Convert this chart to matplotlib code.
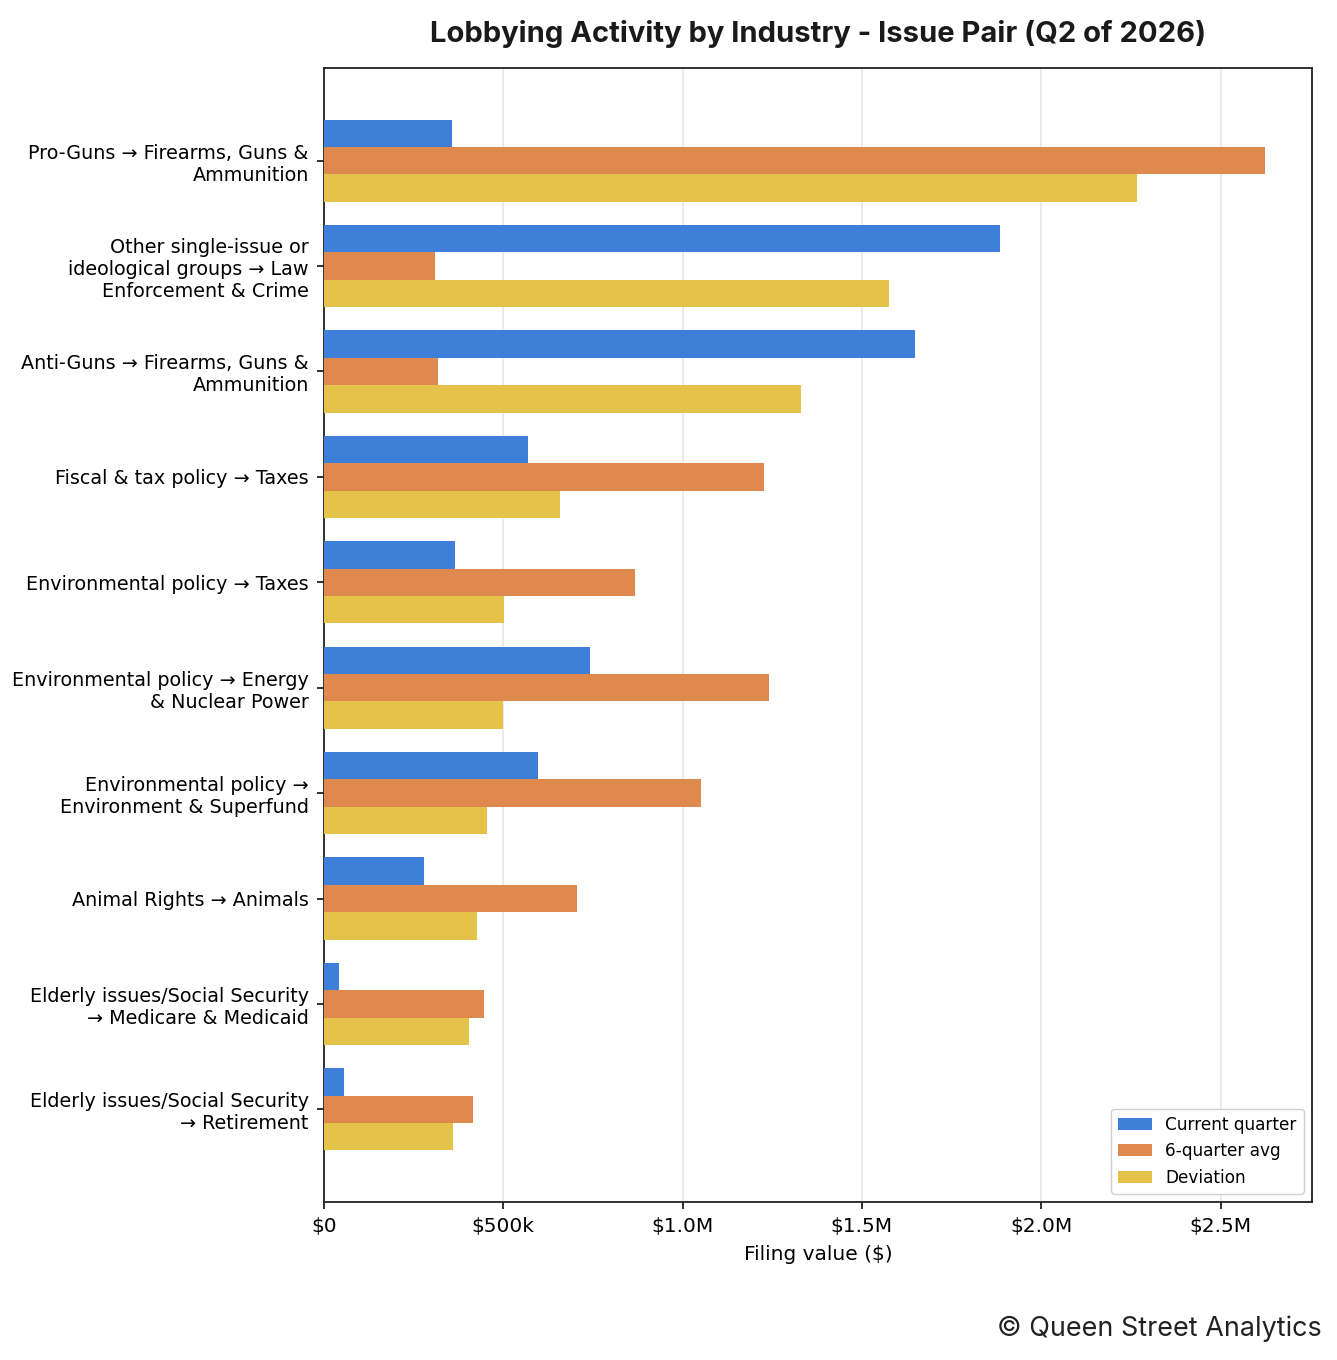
import matplotlib
matplotlib.use("Agg")
import matplotlib.pyplot as plt
import numpy as np
from matplotlib.ticker import FuncFormatter

categories = [
    "Pro-Guns → Firearms, Guns &\nAmmunition",
    "Other single-issue or\nideological groups → Law\nEnforcement & Crime",
    "Anti-Guns → Firearms, Guns &\nAmmunition",
    "Fiscal & tax policy → Taxes",
    "Environmental policy → Taxes",
    "Environmental policy → Energy\n& Nuclear Power",
    "Environmental policy →\nEnvironment & Superfund",
    "Animal Rights → Animals",
    "Elderly issues/Social Security\n→ Medicare & Medicaid",
    "Elderly issues/Social Security\n→ Retirement",
]
current_quarter = [357000, 1885000, 1648000, 569000, 365000, 742000, 597000, 279000, 42000, 56000]
six_quarter_avg = [2624000, 310000, 318000, 1227000, 867000, 1241000, 1051000, 706000, 446000, 415000]
deviation = [2267000, 1575000, 1330000, 658000, 502000, 499000, 454000, 427000, 404000, 359000]

series_names = ["Current quarter", "6-quarter avg", "Deviation"]
colors = ["#3d7fd9", "#e0894f", "#e5c34a"]

fig = plt.figure(figsize=(13.37, 13.6), dpi=100)
ax = fig.add_axes([324/1337, 1 - 1202/1360, (1312-324)/1337, (1202-68)/1360])

y = np.arange(len(categories))
h = 0.26
for i, (vals, name, c) in enumerate(zip([current_quarter, six_quarter_avg, deviation], series_names, colors)):
    ax.barh(y + (i - 1) * h, vals, height=h, color=c, label=name, zorder=3)

ax.set_yticks(y)
ax.set_yticklabels(categories, fontsize=13.75)
ax.invert_yaxis()
ax.set_xlim(0, 2755000)

def fmt(v, pos):
    if v == 0:
        return "$0"
    if v < 1e6:
        return f"${v/1e3:.0f}k"
    return f"${v/1e6:.1f}M"

ax.xaxis.set_major_formatter(FuncFormatter(fmt))
ax.set_xticks([0, 500000, 1000000, 1500000, 2000000, 2500000])
ax.tick_params(axis="x", labelsize=14.5, pad=6)
ax.tick_params(axis="y", pad=6)
ax.grid(axis="x", color="#e6e6e6", linewidth=1.2, zorder=0)
ax.set_axisbelow(True)
for s in ax.spines.values():
    s.set_color("#222222")
    s.set_linewidth(1.3)
ax.tick_params(color="#222222", width=1.3, length=5)
ax.set_xlabel("Filing value ($)", fontsize=14.5, labelpad=6)

leg = ax.legend(loc="lower right", fontsize=12.2, frameon=True, framealpha=1, edgecolor="#d0d0d0")

fig.text(818/1337, 1 - 34/1360, "Lobbying Activity by Industry - Issue Pair (Q2 of 2026)",
         family="Inter", fontweight="bold", fontsize=21, ha="center", va="center", color="#1a1a1a")
fig.text(1322/1337, 1 - 1329/1360, "© Queen Street Analytics",
         family="Inter", fontsize=19.4, ha="right", va="center", color="#222222")

fig.savefig("out.png", dpi=100)
